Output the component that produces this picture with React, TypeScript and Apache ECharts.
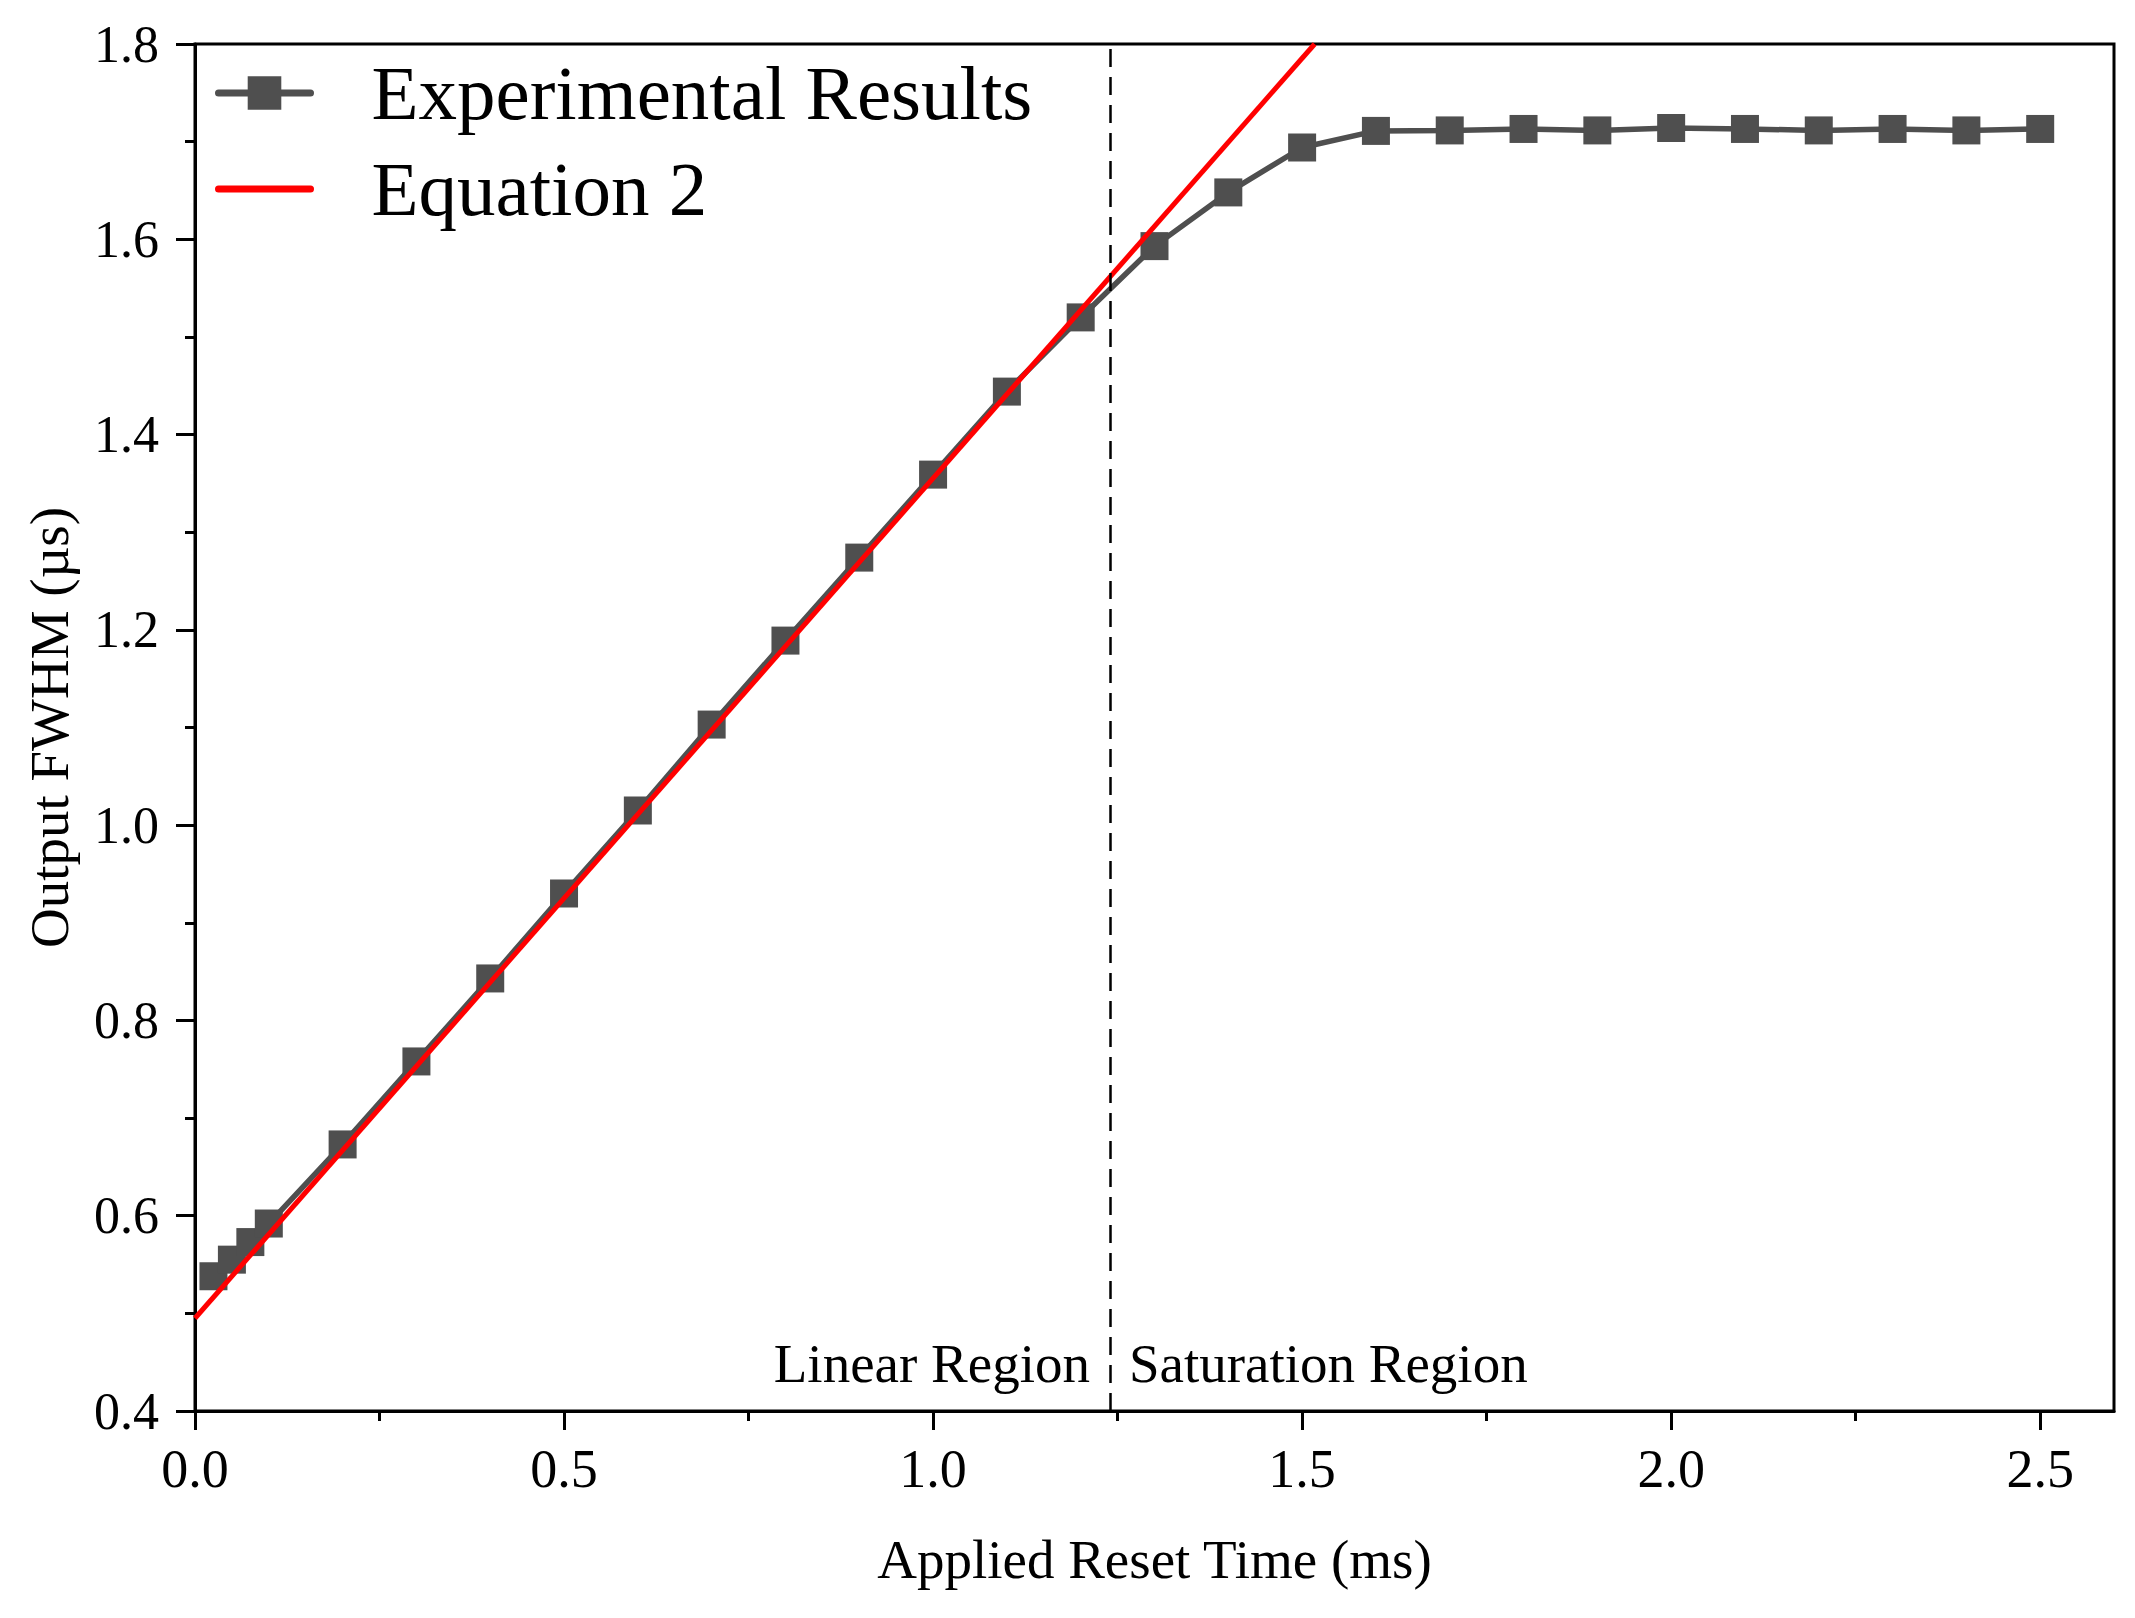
import React, { useEffect, useRef } from "react";
import * as echarts from "echarts";

// Applied reset time (ms) and measured output FWHM (µs)
const resetTime = [
  0.025, 0.05, 0.075, 0.1, 0.2, 0.3, 0.4, 0.5, 0.6, 0.7, 0.8, 0.9, 1.0, 1.1,
  1.2, 1.3, 1.4, 1.5, 1.6, 1.7, 1.8, 1.9, 2.0, 2.1, 2.2, 2.3, 2.4, 2.5,
];
const fwhm = [
  0.538, 0.555, 0.573, 0.592, 0.673, 0.758, 0.843, 0.93, 1.015, 1.103, 1.189,
  1.274, 1.359, 1.444, 1.52, 1.593, 1.648, 1.694, 1.711, 1.7115, 1.713, 1.7115,
  1.714, 1.713, 1.7115, 1.713, 1.7115, 1.713,
];

// Equation 2 line, given by its two end points
const equationX = [0, 1.517];
const equationY = [0.495, 1.8];

// Boundary between the linear and saturation regions
const boundaryX = 1.243;
const regionLabelY = 0.449;
const regionNames = ["Linear Region", "Saturation Region"];

const xMajorTicks = [0, 0.5, 1.0, 1.5, 2.0, 2.5];
const xMinorTicks = [0.25, 0.75, 1.25, 1.75, 2.25];

const seriesNames = ["Experimental Results", "Equation 2"];

const FONT = "'Liberation Serif', 'Times New Roman', serif";
const GRAY = "#4f4f4f";
const RED = "#ff0000";

export default function App() {
  const ref = useRef<HTMLDivElement>(null);

  useEffect(() => {
    if (!ref.current) return;
    const chart = echarts.init(ref.current, undefined, { renderer: "svg" });

    const expData = resetTime.map((x, i) => [x, fwhm[i]]);
    const eqData = equationX.map((x, i) => [x, equationY[i]]);

    const regionLabel = {
      show: true,
      fontFamily: FONT,
      fontSize: 55,
      color: "#000000",
      opacity: 1,
    };

    chart.setOption({
      animation: false,
      backgroundColor: "#ffffff",
      grid: {
        left: 195,
        top: 44,
        right: 21,
        bottom: 207,
        show: true,
        borderColor: "#000",
        borderWidth: 3,
        containLabel: false,
      },
      legend: {
        orient: "vertical",
        left: 210,
        top: 49,
        itemWidth: 92,
        itemHeight: 42,
        itemGap: 18,
        selectedMode: false,
        data: [
          {
            name: seriesNames[0],
            lineStyle: { width: 7, cap: "round", color: GRAY },
            itemStyle: { color: GRAY },
          },
          {
            name: seriesNames[1],
            lineStyle: { width: 7, cap: "round", color: RED },
            itemStyle: { color: "rgba(0,0,0,0)", opacity: 0 },
          },
        ],
        textStyle: {
          fontFamily: FONT,
          fontSize: 77,
          lineHeight: 78,
          color: "#000",
          padding: [0, 0, 0, 56],
        },
      },
      xAxis: [
        {
          type: "value",
          min: 0,
          max: 2.6,
          interval: 0.5,
          position: "bottom",
          name: "Applied Reset Time (ms)",
          nameLocation: "middle",
          nameGap: 121,
          nameTextStyle: { fontFamily: FONT, fontSize: 55, color: "#000" },
          axisLine: { show: true, lineStyle: { color: "#000", width: 3 } },
          axisTick: {
            show: true,
            length: 19,
            inside: false,
            customValues: xMajorTicks,
            lineStyle: { color: "#000", width: 3 },
          },
          axisLabel: {
            customValues: xMajorTicks,
            formatter: (v: number) => v.toFixed(1),
            fontFamily: FONT,
            fontSize: 54,
            color: "#000",
            margin: 31,
          },
          splitLine: { show: false },
        },
        {
          type: "value",
          min: 0,
          max: 2.6,
          position: "bottom",
          axisLine: { show: false },
          axisTick: {
            show: true,
            length: 10,
            customValues: xMinorTicks,
            lineStyle: { color: "#000", width: 3 },
          },
          axisLabel: { show: false },
          splitLine: { show: false },
        },
      ],
      yAxis: {
        type: "value",
        min: 0.4,
        max: 1.8,
        interval: 0.2,
        name: "Output FWHM (µs)",
        nameLocation: "middle",
        nameGap: 118,
        nameTextStyle: { fontFamily: FONT, fontSize: 55, color: "#000" },
        axisLine: { show: true, lineStyle: { color: "#000", width: 3 } },
        axisTick: { show: true, length: 19, lineStyle: { color: "#000", width: 3 } },
        minorTick: {
          show: true,
          splitNumber: 2,
          length: 10,
          lineStyle: { color: "#000", width: 3 },
        },
        axisLabel: {
          formatter: (v: number) => v.toFixed(1),
          fontFamily: FONT,
          fontSize: 52,
          color: "#000",
          margin: 36,
        },
        splitLine: { show: false },
        minorSplitLine: { show: false },
      },
      series: [
        {
          name: seriesNames[0],
          type: "line",
          data: expData,
          symbol: "rect",
          symbolSize: 28,
          color: GRAY,
          itemStyle: { color: GRAY },
          lineStyle: { color: GRAY, width: 5.5 },
          z: 2,
        },
        {
          name: seriesNames[1],
          type: "line",
          data: eqData,
          symbol: "none",
          color: RED,
          lineStyle: { color: RED, width: 5 },
          clip: true,
          z: 3,
          markLine: {
            silent: true,
            symbol: "none",
            label: { show: false },
            lineStyle: { color: "#000", width: 2.5, type: [18, 10] },
            data: [{ xAxis: boundaryX }],
          },
        },
        {
          name: "regions",
          type: "scatter",
          symbolSize: 1,
          itemStyle: { color: "rgba(0,0,0,0)" },
          silent: true,
          z: 4,
          data: [
            {
              value: [boundaryX, regionLabelY],
              label: {
                ...regionLabel,
                position: "left",
                distance: 22,
                formatter: regionNames[0],
              },
            },
            {
              value: [boundaryX, regionLabelY],
              label: {
                ...regionLabel,
                position: "right",
                distance: 16,
                formatter: regionNames[1],
              },
            },
          ],
          label: regionLabel,
        },
      ],
    });

    return () => chart.dispose();
  }, []);

  return (
    <div
      ref={ref}
      style={{ position: "fixed", left: 0, top: 0, width: 2135, height: 1618 }}
    />
  );
}
